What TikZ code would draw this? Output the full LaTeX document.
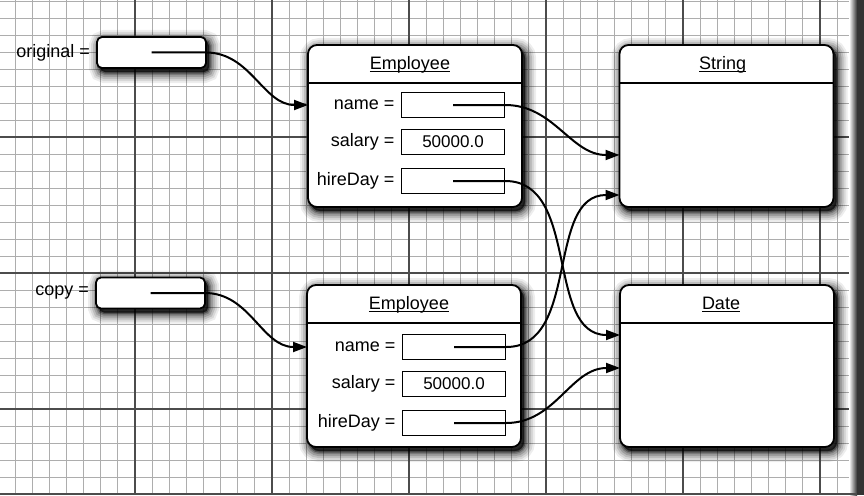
\documentclass[tikz,border=0pt]{standalone}
\usepackage{fontspec}
\setmainfont{Liberation Sans}
\usetikzlibrary{positioning,shadows,arrows.meta}
\newcommand\clsname[1]{\setbox0\hbox{#1}\rlap{\rule[-2.6pt]{\wd0}{1.1pt}}\box0}
\begin{document}
\begin{tikzpicture}[x=1pt,y=-1pt,
every node/.style={font=\fontsize{18}{21}\selectfont},
softshadow/.style={
general shadow={draw=black,fill=black,line width=22pt,opacity=.07,shadow xshift=3pt,shadow yshift=-4pt},
general shadow={draw=black,fill=black,line width=18pt,opacity=.09,shadow xshift=3pt,shadow yshift=-4pt},
general shadow={draw=black,fill=black,line width=14pt,opacity=.12,shadow xshift=3pt,shadow yshift=-4pt},
general shadow={draw=black,fill=black,line width=10pt,opacity=.16,shadow xshift=3pt,shadow yshift=-4pt},
general shadow={draw=black,fill=black,line width=6pt,opacity=.22,shadow xshift=3pt,shadow yshift=-4pt},
general shadow={draw=black,fill=black,line width=3pt,opacity=.35,shadow xshift=3pt,shadow yshift=-4pt}},
objbox/.style={draw,line width=1.8pt,fill=white,rounded corners=9pt,outer sep=0pt,minimum width=214pt,minimum height=162pt,softshadow},
refbox/.style={draw,line width=1.8pt,fill=white,rounded corners=5pt,outer sep=0pt,minimum width=109pt,minimum height=31pt,softshadow},
field/.style={draw,line width=1.6pt,fill=white,minimum width=103pt,minimum height=25pt,inner sep=0pt,font=\fontsize{17}{20}\selectfont},
lbl/.style={inner sep=0pt},
ptr/.style={line width=2pt,-{Triangle[length=14pt,width=10pt]}}]
\useasboundingbox (0,0) rectangle (864,495);
\fill[white] (0,0) rectangle (864,495);
\foreach \i in {1,...,50} \draw[black!32,line width=.8pt] ({-2+17.125*\i},0) -- ({-2+17.125*\i},495);
\foreach \j in {0,...,28} \draw[black!32,line width=.8pt] (0,{1+17*\j}) -- (857,{1+17*\j});
\foreach \i in {1,...,6} \draw[black!70,line width=1.1pt] ({-2+137*\i},0) -- ({-2+137*\i},495);
\foreach \j in {1,2,3} \draw[black!70,line width=1.1pt] (0,{1+136*\j}) -- (857,{1+136*\j});
\shade[left color=white,right color=black!80] (849,0) rectangle (857,495);
\fill[black!80] (857,0) rectangle (864,495);
\draw[black!70,line width=1.5pt] (0,494) -- (857,494);

\node[refbox] (orig) at (151.5,52.5) {};
\node[lbl,left=7pt of orig] (lorig) {original =};
\node[refbox] (copy) at (150.5,293) {};
\node[lbl,left=7pt of copy] (lcopy) {copy =};

\node[objbox] (emp1) at (415,126) {};
\draw[line width=1.3pt] ([yshift=-38pt]emp1.north west) -- ([yshift=-38pt]emp1.north east);
\node (temp1) at ([xshift=-5pt,yshift=-20pt]emp1.north) {\clsname{Employee}};
\node[field] (name1) at (453,105) {};
\node[field] (sal1) at (453,142) {50000.0};
\node[field] (hire1) at (453,181) {};
\node[lbl,left=6pt of name1] (lname1) {name =};
\node[lbl,left=6pt of sal1] (lsal1) {salary =};
\node[lbl,left=6pt of hire1] (lhire1) {hireDay =};

\node[objbox] (emp2) at (414,366) {};
\draw[line width=1.3pt] ([yshift=-38pt]emp2.north west) -- ([yshift=-38pt]emp2.north east);
\node (temp2) at ([xshift=-5pt,yshift=-20pt]emp2.north) {\clsname{Employee}};
\node[field] (name2) at (454,347) {};
\node[field] (sal2) at (454,384) {50000.0};
\node[field] (hire2) at (454,423) {};
\node[lbl,left=6pt of name2] (lname2) {name =};
\node[lbl,left=6pt of sal2] (lsal2) {salary =};
\node[lbl,left=6pt of hire2] (lhire2) {hireDay =};

\node[objbox] (str) at (726.5,126) {};
\draw[line width=1.3pt] ([yshift=-38pt]str.north west) -- ([yshift=-38pt]str.north east);
\node (tstr) at ([xshift=-4pt,yshift=-20pt]str.north) {\clsname{String}};
\node[objbox] (date) at (727,366) {};
\draw[line width=1.3pt] ([yshift=-38pt]date.north west) -- ([yshift=-38pt]date.north east);
\node (tdate) at ([xshift=-6pt,yshift=-20pt]date.north) {\clsname{Date}};

\draw[ptr] (orig.center) -- (orig.east) to[out=0,in=180] (emp1.west|-name1);
\draw[ptr] (copy.center) -- (copy.east) to[out=0,in=180] (emp2.west|-name2);
\draw[ptr] (name1.center) -- (name1.east) to[out=0,in=180] ([yshift=-29pt]str.west);
\draw[ptr] (hire1.center) -- (hire1.east) to[out=0,in=180] ([yshift=31pt]date.west);
\draw[ptr] (name2.center) -- (name2.east) to[out=0,in=180] ([yshift=-69pt]str.west);
\draw[ptr] (hire2.center) -- (hire2.east) to[out=0,in=180] ([yshift=-2pt]date.west);
\end{tikzpicture}
\end{document}
